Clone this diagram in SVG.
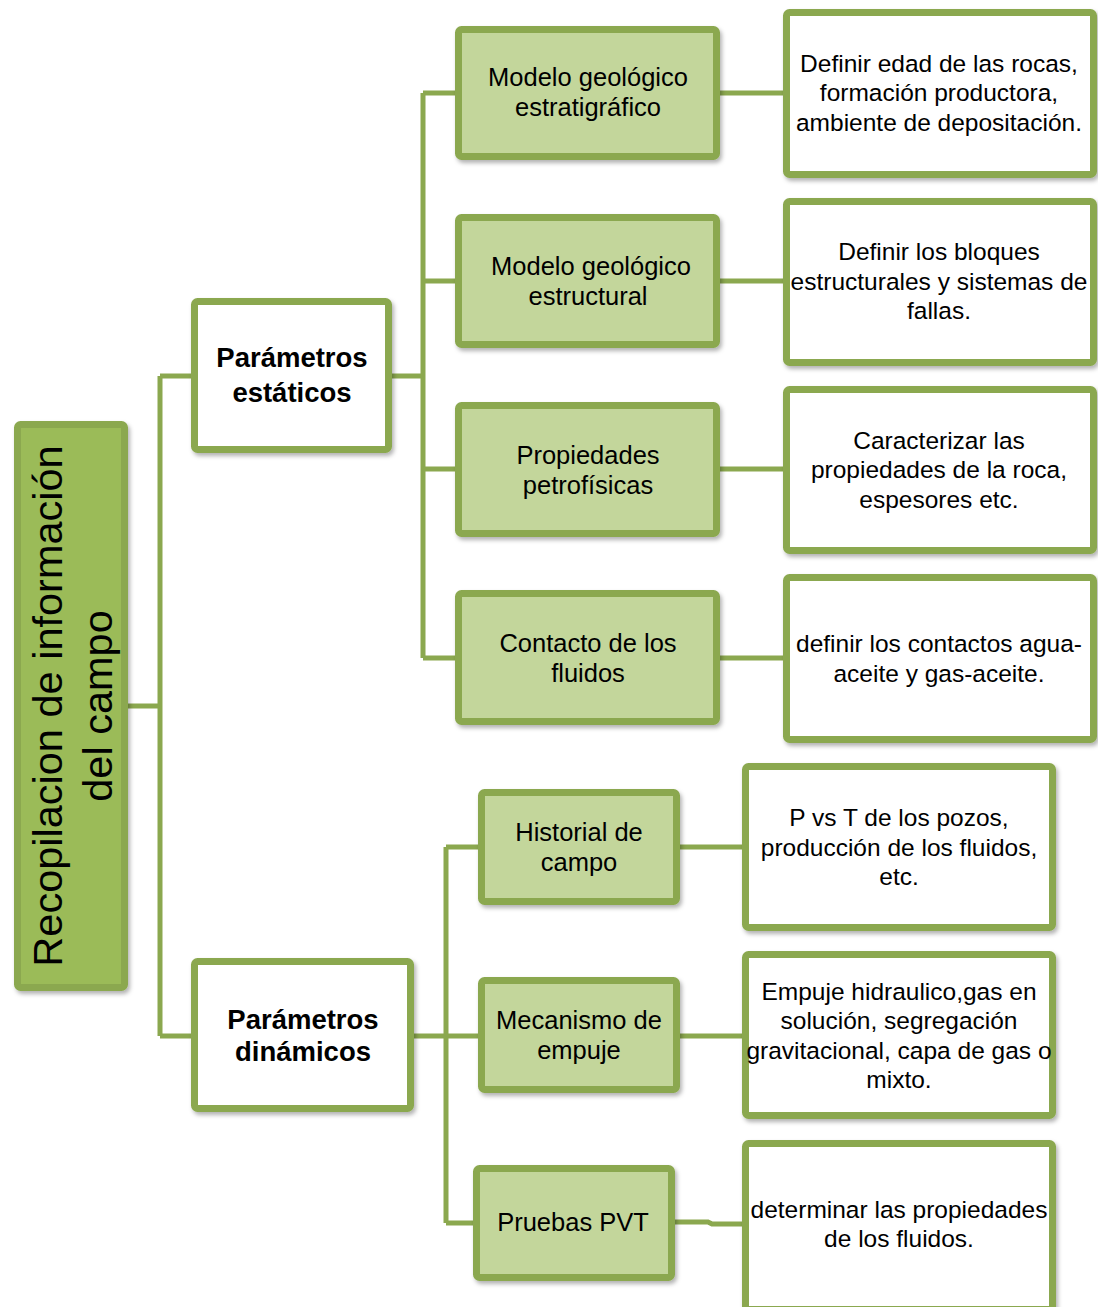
<svg xmlns="http://www.w3.org/2000/svg" width="1098" height="1307" viewBox="0 0 1098 1307">
<defs>
<filter id="sh" x="-10%" y="-10%" width="130%" height="130%">
<feDropShadow dx="2" dy="3" stdDeviation="2" flood-color="#000" flood-opacity="0.3"/>
</filter>
<style>
.root{fill:#9BBB59;stroke:#8BA84F;stroke-width:7;filter:url(#sh)}
.lvl{fill:#FFFFFF;stroke:#8BA84F;stroke-width:7;filter:url(#sh)}
.grn{fill:#C3D69B;stroke:#8BA84F;stroke-width:7;filter:url(#sh)}
.leaf{fill:#FFFFFF;stroke:#8BA84F;stroke-width:7;filter:url(#sh)}
.ln{fill:none;stroke:#8BA84F;stroke-width:5}
text{font-family:"Liberation Sans",Arial,sans-serif;fill:#000;text-anchor:middle}
.t{font-size:24.5px}
.g{font-size:25.5px}
.b{font-size:27.5px;font-weight:bold}
.r{font-size:41.5px}
</style>
</defs>
<rect width="1098" height="1307" fill="#FFFFFF"/>
<g id="connectors">
<path class="ln" d="M128,706 H160 M160,376 V1036 M160,376 H191 M160,1036 H191"/>
<path class="ln" d="M392,376 H423 M423,93 V658 M423,93 H455 M423,281 H455 M423,469 H455 M423,658 H455"/>
<path class="ln" d="M720,93 H783 M720,281 H783 M720,469 H783 M720,658 H783"/>
<path class="ln" d="M414,1036 H478 M446,847 V1223 M446,847 H478 M446,1223 H473"/>
<path class="ln" d="M680,847 H742 M680,1036 H742 M674,1222 H708 L712,1224 H742"/>
</g>
<g id="root">
<rect class="root" x="17.5" y="424.5" width="107" height="563" rx="3"/>
<text class="r" transform="translate(62,706) rotate(-90)">Recopilacion de información</text>
<text class="r" transform="translate(112,706) rotate(-90)">del campo</text>
</g>
<g id="estaticos">
<rect class="lvl" x="194.5" y="301.5" width="194" height="148" rx="3"/>
<text class="b" x="292" y="367">Parámetros</text>
<text class="b" x="292" y="402">estáticos</text>
</g>
<g id="dinamicos">
<rect class="lvl" x="194.5" y="961.5" width="216" height="147" rx="3"/>
<text class="b" x="303" y="1029">Parámetros</text>
<text class="b" x="303" y="1061">dinámicos</text>
</g>
<g id="g1">
<rect class="grn" x="458.5" y="29.5" width="258" height="127" rx="3"/>
<text class="g" x="588" y="86">Modelo geológico</text>
<text class="g" x="588" y="116">estratigráfico</text>
</g>
<g id="g2">
<rect class="grn" x="458.5" y="217.5" width="258" height="127" rx="3"/>
<text class="g" x="591" y="275">Modelo geológico</text>
<text class="g" x="588" y="305">estructural</text>
</g>
<g id="g3">
<rect class="grn" x="458.5" y="405.5" width="258" height="128" rx="3"/>
<text class="g" x="588" y="464">Propiedades</text>
<text class="g" x="588" y="494">petrofísicas</text>
</g>
<g id="g4">
<rect class="grn" x="458.5" y="593.5" width="258" height="128" rx="3"/>
<text class="g" x="588" y="652">Contacto de los</text>
<text class="g" x="588" y="682">fluidos</text>
</g>
<g id="w1">
<rect class="leaf" x="786.5" y="12.5" width="307" height="162" rx="3"/>
<text class="t" x="939" y="72">Definir edad de las rocas,</text>
<text class="t" x="939" y="101">formación productora,</text>
<text class="t" x="939" y="131">ambiente de depositación.</text>
</g>
<g id="w2">
<rect class="leaf" x="786.5" y="201.5" width="307" height="161" rx="3"/>
<text class="t" x="939" y="260">Definir los bloques</text>
<text class="t" x="939" y="290">estructurales y sistemas de</text>
<text class="t" x="939" y="319">fallas.</text>
</g>
<g id="w3">
<rect class="leaf" x="786.5" y="389.5" width="307" height="161" rx="3"/>
<text class="t" x="939" y="449">Caracterizar las</text>
<text class="t" x="939" y="478">propiedades de la roca,</text>
<text class="t" x="939" y="508">espesores etc.</text>
</g>
<g id="w4">
<rect class="leaf" x="786.5" y="577.5" width="307" height="162" rx="3"/>
<text class="t" x="939" y="652">definir los contactos agua-</text>
<text class="t" x="939" y="682">aceite y gas-aceite.</text>
</g>
<g id="g5">
<rect class="grn" x="481.5" y="792.5" width="195" height="109" rx="3"/>
<text class="g" x="579" y="841">Historial de</text>
<text class="g" x="579" y="871">campo</text>
</g>
<g id="g6">
<rect class="grn" x="481.5" y="980.5" width="195" height="109" rx="3"/>
<text class="g" x="579" y="1029">Mecanismo de</text>
<text class="g" x="579" y="1059">empuje</text>
</g>
<g id="g7">
<rect class="grn" x="476.5" y="1168.5" width="195" height="109" rx="3"/>
<text class="g" x="573" y="1231">Pruebas PVT</text>
</g>
<g id="w5">
<rect class="leaf" x="745.5" y="766.5" width="307" height="161" rx="3"/>
<text class="t" x="899" y="826">P vs T de los pozos,</text>
<text class="t" x="899" y="856">producción de los fluidos,</text>
<text class="t" x="899" y="885">etc.</text>
</g>
<g id="w6">
<rect class="leaf" x="745.5" y="954.5" width="307" height="161" rx="3"/>
<text class="t" x="899" y="1000">Empuje hidraulico,gas en</text>
<text class="t" x="899" y="1029">solución, segregación</text>
<text class="t" x="899" y="1059">gravitacional, capa de gas o</text>
<text class="t" x="899" y="1088">mixto.</text>
</g>
<g id="w7">
<rect class="leaf" x="745.5" y="1143.5" width="307" height="166" rx="3"/>
<text class="t" x="899" y="1218">determinar las propiedades</text>
<text class="t" x="899" y="1247">de los fluidos.</text>
</g>
</svg>
